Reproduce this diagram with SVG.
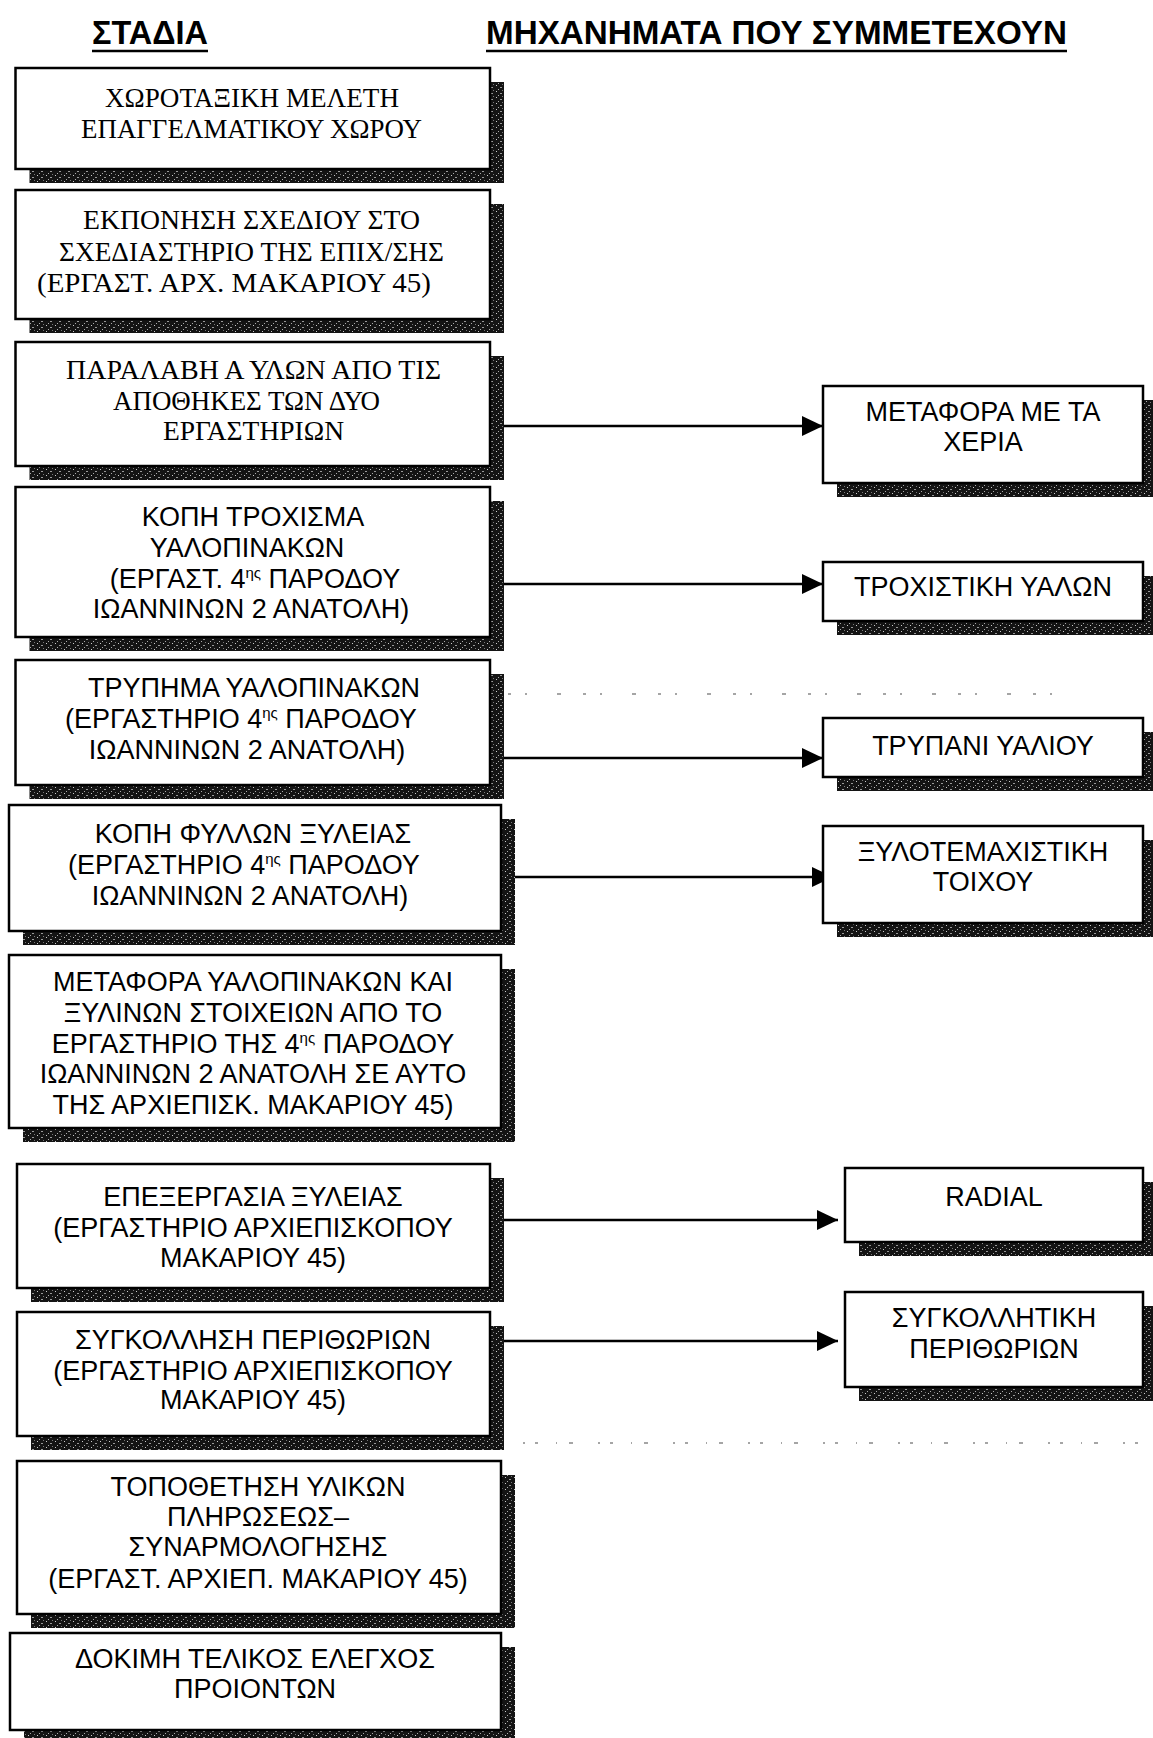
<svg xmlns="http://www.w3.org/2000/svg" width="1153" height="1738" viewBox="0 0 1153 1738">
<style>
.box{fill:#fff;stroke:#000;stroke-width:2.5}
.sh{fill:url(#hatch)}
.s{font-family:"Liberation Sans",Arial,sans-serif;font-size:27px;fill:#000;text-anchor:middle}
.r{font-family:"Liberation Serif","Times New Roman",serif;font-size:28px;fill:#000}
.sup{font-size:15px}
.hd{font-family:"Liberation Sans",Arial,sans-serif;font-size:33px;font-weight:bold;fill:#000}
.ul{stroke:#000;stroke-width:2.5}
.conn{stroke:#000;stroke-width:2.5;fill:none;marker-end:url(#arr)}
.dots{stroke:#888;stroke-width:1.5;fill:none}
</style>
<defs>
<pattern id="hatch" width="9" height="6" patternUnits="userSpaceOnUse">
<rect width="9" height="6" fill="#141414"/>
<rect x="1" y="1" width="1" height="1" fill="#ccc"/>
<rect x="5" y="3" width="2" height="1" fill="#999"/>
<rect x="7" y="0" width="1" height="1" fill="#777"/>
<rect x="3" y="5" width="1" height="1" fill="#aaa"/>
</pattern>
<marker id="arr" markerUnits="userSpaceOnUse" markerWidth="21" markerHeight="20" refX="21" refY="10" orient="auto">
<path d="M0,0 L21,10 L0,20 Z" fill="#000"/>
</marker>
</defs>
<rect width="1153" height="1738" fill="#fff"/>

<g id="headers">
<text class="hd" x="92" y="44" textLength="116" lengthAdjust="spacingAndGlyphs">ΣΤΑΔΙΑ</text>
<line class="ul" x1="92" y1="51" x2="208" y2="51"/>
<text class="hd" x="486" y="44" textLength="581" lengthAdjust="spacingAndGlyphs">ΜΗΧΑΝΗΜΑΤΑ ΠΟΥ ΣΥΜΜΕΤΕΧΟΥΝ</text>
<line class="ul" x1="486" y1="51" x2="1067" y2="51"/>
</g>

<g id="artifacts">
<line class="dots" x1="31" y1="686" x2="82" y2="686" stroke-dasharray="4 7"/>
<line class="dots" x1="508" y1="694" x2="1068" y2="694" stroke-dasharray="3 14 2 30 4 22"/>
<line class="dots" x1="523" y1="1443" x2="1153" y2="1443" stroke-dasharray="2 10 3 18 1 12 4 25"/>
</g>

<g id="connectors">
<line class="conn" x1="504" y1="426" x2="823" y2="426"/>
<line class="conn" x1="504" y1="584" x2="823" y2="584"/>
<line class="conn" x1="504" y1="758" x2="823" y2="758"/>
<line class="conn" x1="515" y1="877" x2="833" y2="877"/>
<line class="conn" x1="504" y1="1220" x2="838" y2="1220"/>
<line class="conn" x1="504" y1="1341" x2="838" y2="1341"/>
</g>

<g id="n1">
<rect class="sh" x="29.5" y="82" width="474.5" height="101"/>
<rect class="box" x="15.5" y="68" width="474.5" height="101"/>
<text class="r" x="105" y="107" textLength="294" lengthAdjust="spacingAndGlyphs">ΧΩΡΟΤΑΞΙΚΗ ΜΕΛΕΤΗ</text>
<text class="r" x="81" y="138" textLength="341" lengthAdjust="spacingAndGlyphs">ΕΠΑΓΓΕΛΜΑΤΙΚΟΥ ΧΩΡΟΥ</text>
</g>

<g id="n2">
<rect class="sh" x="29.5" y="204" width="474.5" height="129"/>
<rect class="box" x="15.5" y="190" width="474.5" height="129"/>
<text class="r" x="83" y="229" textLength="337" lengthAdjust="spacingAndGlyphs">ΕΚΠΟΝΗΣΗ ΣΧΕΔΙΟΥ ΣΤΟ</text>
<text class="r" x="59" y="261" textLength="385" lengthAdjust="spacingAndGlyphs">ΣΧΕΔΙΑΣΤΗΡΙΟ ΤΗΣ ΕΠΙΧ/ΣΗΣ</text>
<text class="r" x="37" y="292" textLength="394" lengthAdjust="spacingAndGlyphs">(ΕΡΓΑΣΤ.  ΑΡΧ.  ΜΑΚΑΡΙΟΥ 45)</text>
</g>

<g id="n3">
<rect class="sh" x="29.5" y="356" width="474.5" height="124"/>
<rect class="box" x="15.5" y="342" width="474.5" height="124"/>
<text class="r" x="66" y="379" textLength="375" lengthAdjust="spacingAndGlyphs">ΠΑΡΑΛΑΒΗ Α ΥΛΩΝ ΑΠΟ ΤΙΣ</text>
<text class="r" x="113" y="410" textLength="267" lengthAdjust="spacingAndGlyphs">ΑΠΟΘΗΚΕΣ ΤΩΝ ΔΥΟ</text>
<text class="r" x="163" y="440" textLength="181" lengthAdjust="spacingAndGlyphs">ΕΡΓΑΣΤΗΡΙΩΝ</text>
</g>

<g id="n4">
<rect class="sh" x="29.5" y="501" width="474.5" height="150"/>
<rect class="box" x="15.5" y="487" width="474.5" height="150"/>
<text class="s" x="253" y="526">ΚΟΠΗ ΤΡΟΧΙΣΜΑ</text>
<text class="s" x="247" y="557">ΥΑΛΟΠΙΝΑΚΩΝ</text>
<text class="s" x="255" y="588">(ΕΡΓΑΣΤ.  4<tspan class="sup" dy="-10">ης</tspan><tspan dy="10"> ΠΑΡΟΔΟΥ</tspan></text>
<text class="s" x="251" y="618">ΙΩΑΝΝΙΝΩΝ 2 ΑΝΑΤΟΛΗ)</text>
</g>

<g id="n5">
<rect class="sh" x="29.5" y="674" width="474.5" height="125"/>
<rect class="box" x="15.5" y="660" width="474.5" height="125"/>
<text class="s" x="254" y="697">ΤΡΥΠΗΜΑ ΥΑΛΟΠΙΝΑΚΩΝ</text>
<text class="s" x="241" y="728">(ΕΡΓΑΣΤΗΡΙΟ 4<tspan class="sup" dy="-10">ης</tspan><tspan dy="10"> ΠΑΡΟΔΟΥ</tspan></text>
<text class="s" x="247" y="759">ΙΩΑΝΝΙΝΩΝ 2 ΑΝΑΤΟΛΗ)</text>
</g>

<g id="n6">
<rect class="sh" x="23" y="819" width="492" height="126"/>
<rect class="box" x="9" y="805" width="492" height="126"/>
<text class="s" x="253" y="843">ΚΟΠΗ ΦΥΛΛΩΝ ΞΥΛΕΙΑΣ</text>
<text class="s" x="244" y="874">(ΕΡΓΑΣΤΗΡΙΟ 4<tspan class="sup" dy="-10">ης</tspan><tspan dy="10"> ΠΑΡΟΔΟΥ</tspan></text>
<text class="s" x="250" y="905">ΙΩΑΝΝΙΝΩΝ 2 ΑΝΑΤΟΛΗ)</text>
</g>

<g id="n7">
<rect class="sh" x="23" y="969" width="492" height="173"/>
<rect class="box" x="9" y="955" width="492" height="173"/>
<text class="s" x="253" y="991">ΜΕΤΑΦΟΡΑ ΥΑΛΟΠΙΝΑΚΩΝ ΚΑΙ</text>
<text class="s" x="253" y="1022">ΞΥΛΙΝΩΝ ΣΤΟΙΧΕΙΩΝ ΑΠΟ ΤΟ</text>
<text class="s" x="253" y="1053">ΕΡΓΑΣΤΗΡΙΟ ΤΗΣ 4<tspan class="sup" dy="-10">ης</tspan><tspan dy="10"> ΠΑΡΟΔΟΥ</tspan></text>
<text class="s" x="253" y="1083">ΙΩΑΝΝΙΝΩΝ 2 ΑΝΑΤΟΛΗ ΣΕ ΑΥΤΟ</text>
<text class="s" x="253" y="1114">ΤΗΣ ΑΡΧΙΕΠΙΣΚ.  ΜΑΚΑΡΙΟΥ 45)</text>
</g>

<g id="n8">
<rect class="sh" x="31" y="1178" width="473" height="124"/>
<rect class="box" x="17" y="1164" width="473" height="124"/>
<text class="s" x="253" y="1206">ΕΠΕΞΕΡΓΑΣΙΑ ΞΥΛΕΙΑΣ</text>
<text class="s" x="253" y="1237">(ΕΡΓΑΣΤΗΡΙΟ ΑΡΧΙΕΠΙΣΚΟΠΟΥ</text>
<text class="s" x="253" y="1267">ΜΑΚΑΡΙΟΥ 45)</text>
</g>

<g id="n9">
<rect class="sh" x="31" y="1326" width="473" height="124"/>
<rect class="box" x="17" y="1312" width="473" height="124"/>
<text class="s" x="253" y="1349">ΣΥΓΚΟΛΛΗΣΗ ΠΕΡΙΘΩΡΙΩΝ</text>
<text class="s" x="253" y="1380">(ΕΡΓΑΣΤΗΡΙΟ ΑΡΧΙΕΠΙΣΚΟΠΟΥ</text>
<text class="s" x="253" y="1409">ΜΑΚΑΡΙΟΥ 45)</text>
</g>

<g id="n10">
<rect class="sh" x="31" y="1475" width="484" height="153"/>
<rect class="box" x="17" y="1461" width="484" height="153"/>
<text class="s" x="258" y="1496">ΤΟΠΟΘΕΤΗΣΗ ΥΛΙΚΩΝ</text>
<text class="s" x="258" y="1526">ΠΛΗΡΩΣΕΩΣ–</text>
<text class="s" x="258" y="1556">ΣΥΝΑΡΜΟΛΟΓΗΣΗΣ</text>
<text class="s" x="258" y="1588">(ΕΡΓΑΣΤ. ΑΡΧΙΕΠ. ΜΑΚΑΡΙΟΥ 45)</text>
</g>

<g id="n11">
<rect class="sh" x="24" y="1647" width="491" height="97"/>
<rect class="box" x="10" y="1633" width="491" height="97"/>
<text class="s" x="255" y="1668">ΔΟΚΙΜΗ ΤΕΛΙΚΟΣ ΕΛΕΓΧΟΣ</text>
<text class="s" x="255" y="1698">ΠΡΟΙΟΝΤΩΝ</text>
</g>

<g id="m1">
<rect class="sh" x="837" y="400" width="320" height="97"/>
<rect class="box" x="823" y="386" width="320" height="97"/>
<text class="s" x="983" y="421">ΜΕΤΑΦΟΡΑ ΜΕ ΤΑ</text>
<text class="s" x="983" y="451">ΧΕΡΙΑ</text>
</g>

<g id="m2">
<rect class="sh" x="837" y="576" width="320" height="59"/>
<rect class="box" x="823" y="562" width="320" height="59"/>
<text class="s" x="983" y="596">ΤΡΟΧΙΣΤΙΚΗ ΥΑΛΩΝ</text>
</g>

<g id="m3">
<rect class="sh" x="837" y="732" width="320" height="59"/>
<rect class="box" x="823" y="718" width="320" height="59"/>
<text class="s" x="983" y="755">ΤΡΥΠΑΝΙ ΥΑΛΙΟΥ</text>
</g>

<g id="m4">
<rect class="sh" x="837" y="840" width="320" height="97"/>
<rect class="box" x="823" y="826" width="320" height="97"/>
<text class="s" x="983" y="861">ΞΥΛΟΤΕΜΑΧΙΣΤΙΚΗ</text>
<text class="s" x="983" y="891">ΤΟΙΧΟΥ</text>
</g>

<g id="m5">
<rect class="sh" x="859" y="1182" width="298" height="74"/>
<rect class="box" x="845" y="1168" width="298" height="74"/>
<text class="s" x="994" y="1206">RADIAL</text>
</g>

<g id="m6">
<rect class="sh" x="859" y="1306" width="298" height="95"/>
<rect class="box" x="845" y="1292" width="298" height="95"/>
<text class="s" x="994" y="1327">ΣΥΓΚΟΛΛΗΤΙΚΗ</text>
<text class="s" x="994" y="1358">ΠΕΡΙΘΩΡΙΩΝ</text>
</g>
</svg>
